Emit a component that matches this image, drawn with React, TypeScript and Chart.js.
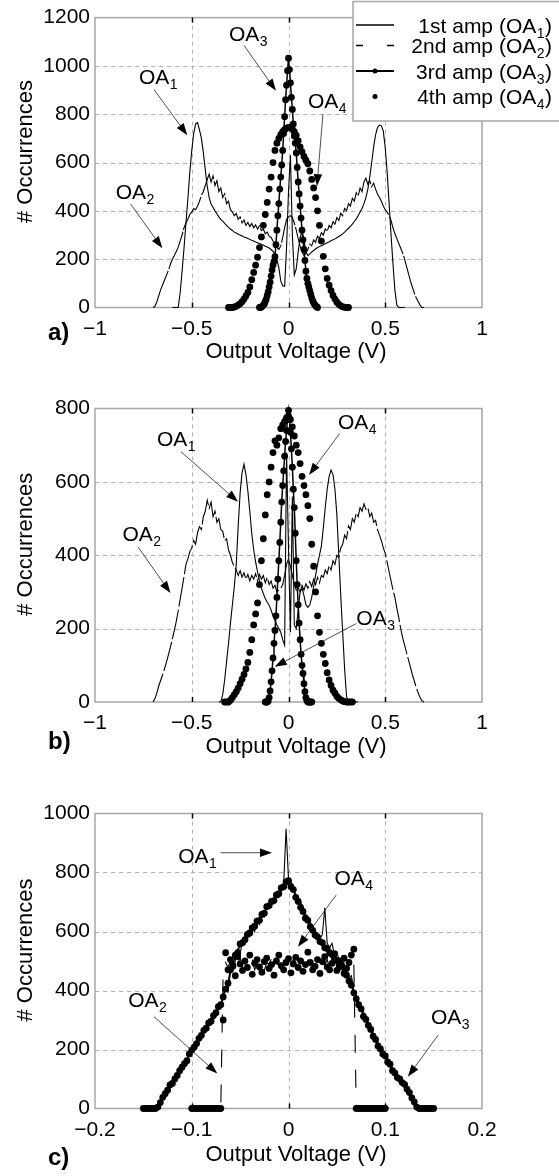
import React, { useEffect, useRef } from 'react';
import { Chart, registerables } from 'chart.js';

Chart.register(...registerables);

const FONT = '"Liberation Sans", Arial, Helvetica, sans-serif';

// ---------- tick values / labels ----------
const AB_X_TICKS = [-1, -0.5, 0, 0.5, 1];
const AB_X_LABELS = ['−1', '−0.5', '0', '0.5', '1'];
const C_X_TICKS = [-0.2, -0.1, 0, 0.1, 0.2];
const C_X_LABELS = ['−0.2', '−0.1', '0', '0.1', '0.2'];
const A_Y_TICKS = [0, 200, 400, 600, 800, 1000, 1200];
const B_Y_TICKS = [0, 200, 400, 600, 800];
const C_Y_TICKS = [0, 200, 400, 600, 800, 1000];

const Y_TITLE = '# Occurrences';
const X_TITLE = 'Output Voltage (V)';
const LEGEND_LABELS = ['1st amp', '2nd amp', '3rd amp', '4th amp'];
const LEGEND_SUBS = ['1', '2', '3', '4'];

// ---------- panel a) values (histogram bins) ----------
const A_OA1_START = -0.6, A_OA1_STEP = 0.01;
const A_OA1 = [
  0, 0, 0, 0, 60, 150, 245, 350, 450, 560,
  650, 720, 760, 765, 735, 700, 640, 570, 502, 455,
  428, 415, 400, 388, 375, 365, 358, 348, 340, 332,
  325, 319, 312, 308, 303, 300, 296, 292, 290, 286,
  282, 278, 275, 271, 268, 265, 262, 258, 254, 250,
  246, 240, 232, 220, 200, 165, 110, 90, 88, 250,
  480, 630, 300, 135, 160, 230, 290, 315, 280, 230,
  215, 222, 230, 236, 242, 248, 252, 256, 260, 264,
  268, 272, 276, 280, 284, 289, 294, 299, 305, 312,
  320, 328, 336, 345, 356, 367, 380, 395, 410, 430,
  455, 490, 540, 600, 665, 715, 745, 755, 752, 730,
  660, 560, 430, 300, 180, 70, 10, 0, 0, 0,
  0,
];
const A_OA2_START = -0.7, A_OA2_STEP = 0.01;
const A_OA2 = [
  0, 5, 25, 50, 75, 95, 115, 135, 155, 180,
  200, 215, 232, 250, 275, 300, 330, 350, 365, 385,
  395, 410, 405, 420, 440, 465, 480, 505, 530, 552,
  520, 545, 505, 525, 480, 495, 455, 470, 430, 440,
  405, 395, 380, 390, 365, 375, 350, 362, 340, 352,
  335, 348, 330, 342, 325, 338, 318, 325, 305, 312,
  295, 290, 275, 265, 250, 240, 255, 290, 330, 365,
  375, 380, 372, 350, 320, 285, 255, 230, 215, 225,
  240, 262, 255, 280, 270, 295, 285, 310, 300, 325,
  315, 340, 330, 355, 345, 372, 360, 390, 380, 410,
  400, 430, 420, 452, 440, 475, 462, 495, 480, 520,
  535, 510, 525, 500, 515, 490, 470, 455, 440, 420,
  405, 395, 380, 360, 330, 305, 285, 265, 245, 225,
  200, 170, 140, 110, 85, 60, 40, 25, 10, 0,
  0,
];
const A_OA3_START = -0.15, A_OA3_STEP = 0.005;
const A_OA3 = [
  0, 0, 2, 5, 10, 15, 25, 35, 50, 65,
  85, 105, 130, 155, 175, 190, 210, 260, 320, 380,
  430, 490, 540, 590, 650, 720, 790, 860, 920, 980,
  1032, 985, 930, 870, 820, 760, 710, 680, 640, 580,
  520, 470, 420, 370, 320, 280, 240, 195, 150, 120,
  100, 85, 70, 55, 40, 28, 20, 12, 8, 3,
  0,
];
const A_OA4_START = -0.31, A_OA4_STEP = 0.01;
const A_OA4 = [
  0, 0, 0, 2, 5, 10, 16, 24, 35, 48,
  62, 85, 115, 145, 175, 208, 248, 292, 340, 385,
  435, 490, 540, 600, 650, 680, 700, 715, 728, 736,
  742, 745, 744, 738, 728, 712, 690, 665, 645, 625,
  610, 595, 565, 530, 495, 455, 400, 340, 275, 212,
  160, 120, 92, 70, 50, 35, 22, 13, 7, 3,
  1, 0, 0,
];

// ---------- panel b) values ----------
const B_OA1_START = -0.36, B_OA1_STEP = 0.01;
const B_OA1 = [
  0, 0, 20, 60, 110, 160, 215, 265, 315, 375,
  480, 570, 625, 648, 620, 575, 520, 460, 415, 382,
  355, 330, 310, 295, 282, 272, 264, 250, 235, 222,
  210, 200, 190, 170, 155, 680, 420, 190, 560, 210,
  200, 250, 300, 310, 290, 265, 258, 265, 285, 315,
  345, 375, 400, 425, 475, 530, 580, 615, 632, 620,
  580, 510, 400, 290, 190, 90, 15, 0, 0, 0,
  0, 0, 0,
];
const B_OA2_START = -0.7, B_OA2_STEP = 0.01;
const B_OA2 = [
  0, 10, 25, 45, 60, 75, 92, 110, 130, 150,
  172, 195, 220, 248, 280, 310, 342, 375, 390, 410,
  420, 440, 430, 462, 478, 470, 505, 520, 550, 528,
  545, 505, 520, 490, 500, 470, 465, 440, 445, 415,
  400, 380, 370, 360, 345, 358, 340, 352, 335, 348,
  330, 345, 335, 350, 330, 348, 335, 345, 325, 340,
  320, 330, 310, 318, 300, 305, 310, 320, 345, 375,
  390, 370, 345, 320, 305, 312, 300, 318, 305, 322,
  310, 328, 315, 335, 320, 340, 325, 345, 340, 360,
  350, 372, 360, 385, 375, 400, 395, 420, 430, 455,
  445, 480, 470, 500, 490, 515, 505, 530, 520, 540,
  525, 530, 505, 515, 490, 495, 470, 455, 440, 420,
  405, 380, 355, 330, 305, 285, 255, 230, 200, 175,
  155, 135, 115, 95, 75, 58, 40, 25, 12, 3,
  0,
];
const B_OA3_START = -0.12, B_OA3_STEP = 0.005;
const B_OA3 = [
  0, 0, 0, 3, 12, 30, 55, 85, 120, 160,
  195, 235, 285, 335, 385, 435, 490, 545, 590, 630,
  670, 710, 740, 770, 795, 770, 735, 690, 640, 580,
  530, 460, 385, 320, 265, 215, 170, 130, 100, 78,
  50, 28, 12, 4, 0, 0, 0, 0, 0,
];
const B_OA4_START = -0.33, B_OA4_STEP = 0.01;
const B_OA4 = [
  0, 0, 0, 5, 12, 20, 28, 38, 50, 62,
  75, 90, 108, 135, 170, 210, 240, 270, 320, 385,
  445, 510, 565, 600, 640, 680, 712, 700, 720, 745,
  755, 765, 775, 780, 770, 750, 725, 700, 680, 650,
  615, 590, 565, 535, 500, 430, 370, 300, 235, 190,
  160, 130, 105, 80, 60, 45, 32, 24, 15, 10,
  6, 3, 1, 0, 0, 0, 0,
];

// ---------- panel c) values ----------
const C_TRI_START = -0.15, C_TRI_STEP = 0.0025;
const C_OA1 = [
  0, 0, 0, 0, 0, 0, 0, 12, 30, 48,
  60, 72, 90, 102, 110, 128, 142, 155, 170, 178,
  195, 210, 218, 238, 245, 268, 272, 292, 305, 300,
  325, 348, 338, 385, 410, 395, 460, 475, 500, 540,
  525, 570, 560, 600, 585, 615, 600, 640, 625, 665,
  650, 690, 680, 705, 695, 725, 715, 740, 760, 948,
  780, 770, 750, 725, 715, 700, 680, 660, 650, 630,
  620, 600, 595, 575, 590, 680, 560, 545, 560, 520,
  530, 500, 510, 470, 480, 440, 450, 400, 385, 360,
  340, 330, 300, 292, 270, 258, 235, 225, 205, 195,
  175, 168, 148, 138, 120, 112, 95, 88, 72, 62,
  45, 32, 15, 3, 0, 0, 0, 0, 0, 0,
  0,
];
const C_OA3 = [
  0, 0, 0, 0, 0, 0, 5, 20, 38, 50,
  62, 80, 85, 100, 112, 128, 140, 152, 162, 185,
  198, 208, 220, 238, 248, 265, 272, 290, 296, 315,
  325, 345, 352, 378, 405, 425, 470, 485, 520, 528,
  558, 562, 572, 590, 595, 612, 618, 635, 638, 658,
  662, 684, 688, 702, 705, 724, 728, 748, 752, 768,
  772, 752, 742, 716, 702, 682, 668, 645, 638, 616,
  604, 588, 582, 566, 562, 545, 542, 528, 522, 506,
  502, 486, 480, 458, 452, 432, 418, 392, 372, 352,
  338, 312, 302, 282, 268, 245, 234, 212, 202, 185,
  178, 158, 150, 128, 120, 105, 100, 88, 82, 66,
  54, 36, 22, 5, 0, 0, 0, 0, 0, 0,
  0,
];
const C_FLAT_START = -0.1, C_FLAT_STEP = 0.0025;
const C_OA2 = [
  0, 0, 0, 0, 0, 0, 0, 0, 0, 0,
  0, 0, 0, 470, 495, 478, 502, 488, 465, 492,
  510, 480, 475, 498, 485, 505, 470, 490, 482, 500,
  468, 495, 488, 510, 476, 492, 486, 470, 500, 484,
  495, 478, 505, 490, 472, 498, 485, 480, 502, 488,
  470, 495, 500, 478, 492, 485, 506, 472, 490, 498,
  480, 488, 475, 500, 492, 478, 485, 495, 0, 0,
  0, 0, 0, 0, 0, 0, 0, 0, 0, 0,
  0,
];
const C_OA4 = [
  0, 0, 0, 0, 0, 0, 0, 0, 0, 0,
  0, 0, 0, 300, 528, 470, 505, 482, 450, 515,
  490, 468, 500, 478, 520, 455, 492, 505, 480, 462,
  498, 510, 475, 488, 452, 500, 520, 484, 470, 495,
  508, 460, 490, 512, 478, 500, 465, 488, 530, 495,
  470, 482, 505, 458, 498, 515, 480, 470, 492, 525,
  468, 500, 485, 510, 475, 495, 520, 540, 0, 0,
  0, 0, 0, 0, 0, 0, 0, 0, 0, 0,
  0,
];

// ---------- annotations (data coordinates) ----------
type Note = { sub: string; label: [number, number]; tail: [number, number]; tip: [number, number] };
const A_NOTES: Note[] = [
  { sub: '1', label: [-0.773, 957], tail: [-0.695, 902], tip: [-0.523, 713] },
  { sub: '2', label: [-0.893, 482], tail: [-0.8155, 428], tip: [-0.652, 245] },
  { sub: '3', label: [-0.3075, 1133], tail: [-0.23, 1085], tip: [-0.0646, 897] },
  { sub: '4', label: [0.1008, 855], tail: [0.178, 800], tip: [0.147, 502] },
];
const B_NOTES: Note[] = [
  { sub: '1', label: [-0.68, 717], tail: [-0.5556, 682], tip: [-0.261, 546] },
  { sub: '2', label: [-0.858, 460], tail: [-0.778, 423], tip: [-0.61, 297] },
  { sub: '3', label: [0.3504, 229], tail: [0.3504, 214], tip: [-0.0713, 96] },
  { sub: '4', label: [0.2558, 764], tail: [0.2646, 732], tip: [0.106, 619] },
];
const C_NOTES: Note[] = [
  { sub: '1', label: [-0.114, 856], tail: [-0.0701, 867], tip: [-0.01705, 867] },
  { sub: '2', label: [-0.1656, 368], tail: [-0.139, 311], tip: [-0.0736, 119] },
  { sub: '3', label: [0.1473, 311], tail: [0.1547, 249], tip: [0.1234, 108] },
  { sub: '4', label: [0.04755, 783], tail: [0.0494, 724], tip: [0.0098, 548] },
];

function binCenters(first: number, width: number, count: number): number[] {
  const out: number[] = [];
  for (let i = 0; i < count; i++) out.push(+(first + i * width).toFixed(5));
  return out;
}

type Kind = 'oa1' | 'oa2' | 'oa3' | 'oa4';
type Series = { kind: Kind; x: number[]; y: number[] };
type Panel = {
  top: number; height: number; plotTop: number; plotBottom: number;
  xMin: number; xMax: number; xTicks: number[]; xLabels: string[];
  yMax: number; yTicks: number[];
  series: Series[]; notes: Note[]; tag: string;
  tagBaseline: number; titleBaseline: number; legend: boolean; oa2Dash: number[];
};

const ser = (kind: Kind, start: number, step: number, y: number[]): Series => ({ kind, x: binCenters(start, step, y.length), y });

const PANELS: Panel[] = [
  {
    top: 0, height: 370, plotTop: 12.5, plotBottom: 307.5,
    xMin: -1, xMax: 1, xTicks: AB_X_TICKS, xLabels: AB_X_LABELS, yMax: 1200, yTicks: A_Y_TICKS,
    series: [
      ser('oa1', A_OA1_START, A_OA1_STEP, A_OA1),
      ser('oa2', A_OA2_START, A_OA2_STEP, A_OA2),
      ser('oa3', A_OA3_START, A_OA3_STEP, A_OA3),
      ser('oa4', A_OA4_START, A_OA4_STEP, A_OA4),
    ],
    notes: A_NOTES, tag: 'a)', tagBaseline: 340, titleBaseline: 357.5, legend: true, oa2Dash: [40, 2],
  },
  {
    top: 370, height: 405, plotTop: 408.5, plotBottom: 702,
    xMin: -1, xMax: 1, xTicks: AB_X_TICKS, xLabels: AB_X_LABELS, yMax: 800, yTicks: B_Y_TICKS,
    series: [
      ser('oa1', B_OA1_START, B_OA1_STEP, B_OA1),
      ser('oa2', B_OA2_START, B_OA2_STEP, B_OA2),
      ser('oa3', B_OA3_START, B_OA3_STEP, B_OA3),
      ser('oa4', B_OA4_START, B_OA4_STEP, B_OA4),
    ],
    notes: B_NOTES, tag: 'b)', tagBaseline: 749, titleBaseline: 752.5, legend: false, oa2Dash: [30, 3],
  },
  {
    top: 775, height: 401, plotTop: 813.5, plotBottom: 1108.5,
    xMin: -0.2, xMax: 0.2, xTicks: C_X_TICKS, xLabels: C_X_LABELS, yMax: 1000, yTicks: C_Y_TICKS,
    series: [
      ser('oa1', C_TRI_START, C_TRI_STEP, C_OA1),
      ser('oa2', C_FLAT_START, C_FLAT_STEP, C_OA2),
      ser('oa3', C_TRI_START, C_TRI_STEP, C_OA3),
      ser('oa4', C_FLAT_START, C_FLAT_STEP, C_OA4),
    ],
    notes: C_NOTES, tag: 'c)', tagBaseline: 1165, titleBaseline: 1160.5, legend: false, oa2Dash: [18, 17],
  },
];

const PLOT_LEFT = 95;
const PLOT_RIGHT = 482;
const CANVAS_W = 559;

function drawOA(ctx: CanvasRenderingContext2D, x: number, baseline: number, pre: string, sub: string, post: string, alignRight: boolean) {
  ctx.font = `21px ${FONT}`;
  const w1 = ctx.measureText(pre).width;
  const w3 = post ? ctx.measureText(post).width : 0;
  ctx.font = `14px ${FONT}`;
  const w2 = ctx.measureText(sub).width;
  const total = w1 + w2 + 1 + w3;
  const sx = alignRight ? x - total : x;
  ctx.textAlign = 'left';
  ctx.textBaseline = 'alphabetic';
  ctx.fillStyle = '#000';
  ctx.font = `21px ${FONT}`;
  ctx.fillText(pre, sx, baseline);
  ctx.font = `14px ${FONT}`;
  ctx.fillText(sub, sx + w1 + 0.5, baseline + 5);
  if (post) {
    ctx.font = `21px ${FONT}`;
    ctx.fillText(post, sx + w1 + w2 + 1, baseline);
  }
}

function makeDecor(p: Panel) {
  return {
    id: 'decor',
    beforeDatasetsDraw(chart: any) {
      const { ctx, chartArea: ca, scales } = chart;
      const sx = scales.x, sy = scales.y;
      ctx.save();
      ctx.strokeStyle = '#b0b0b0';
      ctx.lineWidth = 1;
      ctx.setLineDash([4, 4]);
      for (const v of p.xTicks) {
        if (v === p.xMin || v === p.xMax) continue;
        const x = Math.round(sx.getPixelForValue(v)) + 0.5;
        ctx.beginPath(); ctx.moveTo(x, ca.top); ctx.lineTo(x, ca.bottom); ctx.stroke();
      }
      for (const v of p.yTicks) {
        if (v === 0 || v === p.yMax) continue;
        const y = Math.round(sy.getPixelForValue(v)) + 0.5;
        ctx.beginPath(); ctx.moveTo(ca.left, y); ctx.lineTo(ca.right, y); ctx.stroke();
      }
      ctx.setLineDash([]);
      ctx.strokeStyle = '#a6a6a6';
      ctx.lineWidth = 1.5;
      ctx.strokeRect(ca.left, ca.top, ca.right - ca.left, ca.bottom - ca.top);
      ctx.strokeStyle = '#000';
      ctx.lineWidth = 1.5;
      for (const v of p.xTicks) {
        if (v === p.xMin || v === p.xMax) continue;
        const x = Math.round(sx.getPixelForValue(v)) + 0.5;
        ctx.beginPath(); ctx.moveTo(x, ca.top); ctx.lineTo(x, ca.top + 5); ctx.stroke();
        ctx.beginPath(); ctx.moveTo(x, ca.bottom); ctx.lineTo(x, ca.bottom - 5); ctx.stroke();
      }
      ctx.restore();
    },
    afterDraw(chart: any) {
      const { ctx, chartArea: ca, scales } = chart;
      const sx = scales.x, sy = scales.y;
      ctx.save();
      // annotations
      for (const n of p.notes) {
        const lx = sx.getPixelForValue(n.label[0]);
        const ly = sy.getPixelForValue(n.label[1]);
        drawOA(ctx, lx, ly + 7.5, 'OA', n.sub, '', false);
        const tx = sx.getPixelForValue(n.tail[0]), ty = sy.getPixelForValue(n.tail[1]);
        const hx = sx.getPixelForValue(n.tip[0]), hy = sy.getPixelForValue(n.tip[1]);
        const ang = Math.atan2(hy - ty, hx - tx);
        const L = 12, W = 4.2;
        const bx = hx - L * Math.cos(ang), by = hy - L * Math.sin(ang);
        ctx.strokeStyle = '#222';
        ctx.lineWidth = 0.8;
        ctx.beginPath(); ctx.moveTo(tx, ty); ctx.lineTo(bx, by); ctx.stroke();
        ctx.fillStyle = '#000';
        ctx.beginPath();
        ctx.moveTo(hx, hy);
        ctx.lineTo(bx + W * Math.sin(ang), by - W * Math.cos(ang));
        ctx.lineTo(bx - W * Math.sin(ang), by + W * Math.cos(ang));
        ctx.closePath();
        ctx.fill();
      }
      // axis titles
      ctx.fillStyle = '#000';
      ctx.font = `22px ${FONT}`;
      ctx.textAlign = 'center';
      ctx.textBaseline = 'alphabetic';
      ctx.fillText(X_TITLE, 296, p.titleBaseline - p.top);
      ctx.save();
      const cy = (ca.top + ca.bottom) / 2 - 11;
      ctx.translate(32, cy);
      ctx.rotate(-Math.PI / 2);
      ctx.fillText(Y_TITLE, 0, 0);
      ctx.restore();
      // panel tag
      ctx.font = `bold 24px ${FONT}`;
      ctx.textAlign = 'left';
      ctx.fillText(p.tag, 48, p.tagBaseline - p.top);
      // legend
      if (p.legend) {
        ctx.fillStyle = '#fff';
        ctx.fillRect(353, 1.5, 220, 119.5);
        ctx.strokeStyle = '#a6a6a6';
        ctx.lineWidth = 1.5;
        ctx.strokeRect(353, 1.5, 220, 119.5);
        const rows = [25, 45.5, 71, 96.5];
        const x0 = 356, x1 = 394, xm = 375;
        ctx.strokeStyle = '#000';
        ctx.fillStyle = '#000';
        ctx.lineWidth = 1.3;
        ctx.beginPath(); ctx.moveTo(x0, rows[0]); ctx.lineTo(x1, rows[0]); ctx.stroke();
        ctx.setLineDash([7, 24]);
        ctx.beginPath(); ctx.moveTo(x0, rows[1]); ctx.lineTo(x1, rows[1]); ctx.stroke();
        ctx.setLineDash([]);
        ctx.lineWidth = 2;
        ctx.beginPath(); ctx.moveTo(x0, rows[2]); ctx.lineTo(x1, rows[2]); ctx.stroke();
        ctx.beginPath(); ctx.arc(xm, rows[2], 2.5, 0, Math.PI * 2); ctx.fill();
        ctx.beginPath(); ctx.arc(xm, rows[3], 2.5, 0, Math.PI * 2); ctx.fill();
        for (let i = 0; i < 4; i++) {
          drawOA(ctx, 552, rows[i] + 7.5, `${LEGEND_LABELS[i]} (OA`, LEGEND_SUBS[i], ')', true);
        }
      }
      ctx.restore();
    },
  };
}

function buildConfig(p: Panel): any {
  const datasets = p.series.map((s) => {
    const data = s.y.map((v, i) => ({ x: s.x[i], y: v }));
    const base: any = {
      data, borderColor: '#000', backgroundColor: '#000', clip: false, tension: 0,
      pointBorderWidth: 0, pointHoverRadius: 0, pointHitRadius: 0,
    };
    if (s.kind === 'oa1') return { ...base, label: 'OA1', borderWidth: 1.1, pointRadius: 0, order: 4 };
    if (s.kind === 'oa2') return { ...base, label: 'OA2', borderWidth: 1.1, borderDash: p.oa2Dash, pointRadius: 0, order: 3 };
    if (s.kind === 'oa3') return { ...base, label: 'OA3', borderWidth: 1.5, pointRadius: 3.4, order: 2 };
    return { ...base, label: 'OA4', showLine: false, pointRadius: 3.4, order: 1 };
  });
  const xAxisH = p.height - (p.plotBottom - p.top);
  return {
    type: 'line',
    data: { datasets },
    plugins: [makeDecor(p)],
    options: {
      responsive: false,
      animation: false,
      devicePixelRatio: 1,
      events: [],
      layout: { padding: { left: 0, right: CANVAS_W - PLOT_RIGHT, top: p.plotTop - p.top, bottom: 0 } },
      plugins: { legend: { display: false }, tooltip: { enabled: false }, title: { display: false } },
      scales: {
        x: {
          type: 'linear', min: p.xMin, max: p.xMax,
          grid: { display: false, drawTicks: false },
          border: { display: false },
          afterBuildTicks: (scale: any) => { scale.ticks = p.xTicks.map((v) => ({ value: v })); },
          afterFit: (scale: any) => { scale.height = xAxisH; },
          ticks: {
            autoSkip: false, maxRotation: 0, padding: 9, color: '#000',
            font: { family: FONT, size: 21 },
            callback: (_v: any, i: number) => p.xLabels[i],
          },
        },
        y: {
          type: 'linear', min: 0, max: p.yMax,
          grid: { display: false, drawTicks: false },
          border: { display: false },
          afterBuildTicks: (scale: any) => { scale.ticks = p.yTicks.map((v) => ({ value: v })); },
          afterFit: (scale: any) => { scale.width = PLOT_LEFT; },
          ticks: {
            autoSkip: false, padding: 5, color: '#000',
            font: { family: FONT, size: 21 },
            callback: (v: any) => String(v),
          },
        },
      },
    },
  };
}

function PanelChart({ panel }: { panel: Panel }) {
  const ref = useRef<HTMLCanvasElement>(null);
  useEffect(() => {
    if (!ref.current) return;
    const chart = new Chart(ref.current, buildConfig(panel));
    return () => chart.destroy();
  }, [panel]);
  return (
    <canvas
      ref={ref}
      width={CANVAS_W}
      height={panel.height}
      style={{ position: 'absolute', left: 0, top: panel.top, width: CANVAS_W, height: panel.height }}
    />
  );
}

export default function App() {
  return (
    <div style={{ position: 'absolute', left: 0, top: 0, width: CANVAS_W, height: 1176, background: '#fff', overflow: 'hidden' }}>
      {PANELS.map((p, i) => (
        <PanelChart key={i} panel={p} />
      ))}
    </div>
  );
}
